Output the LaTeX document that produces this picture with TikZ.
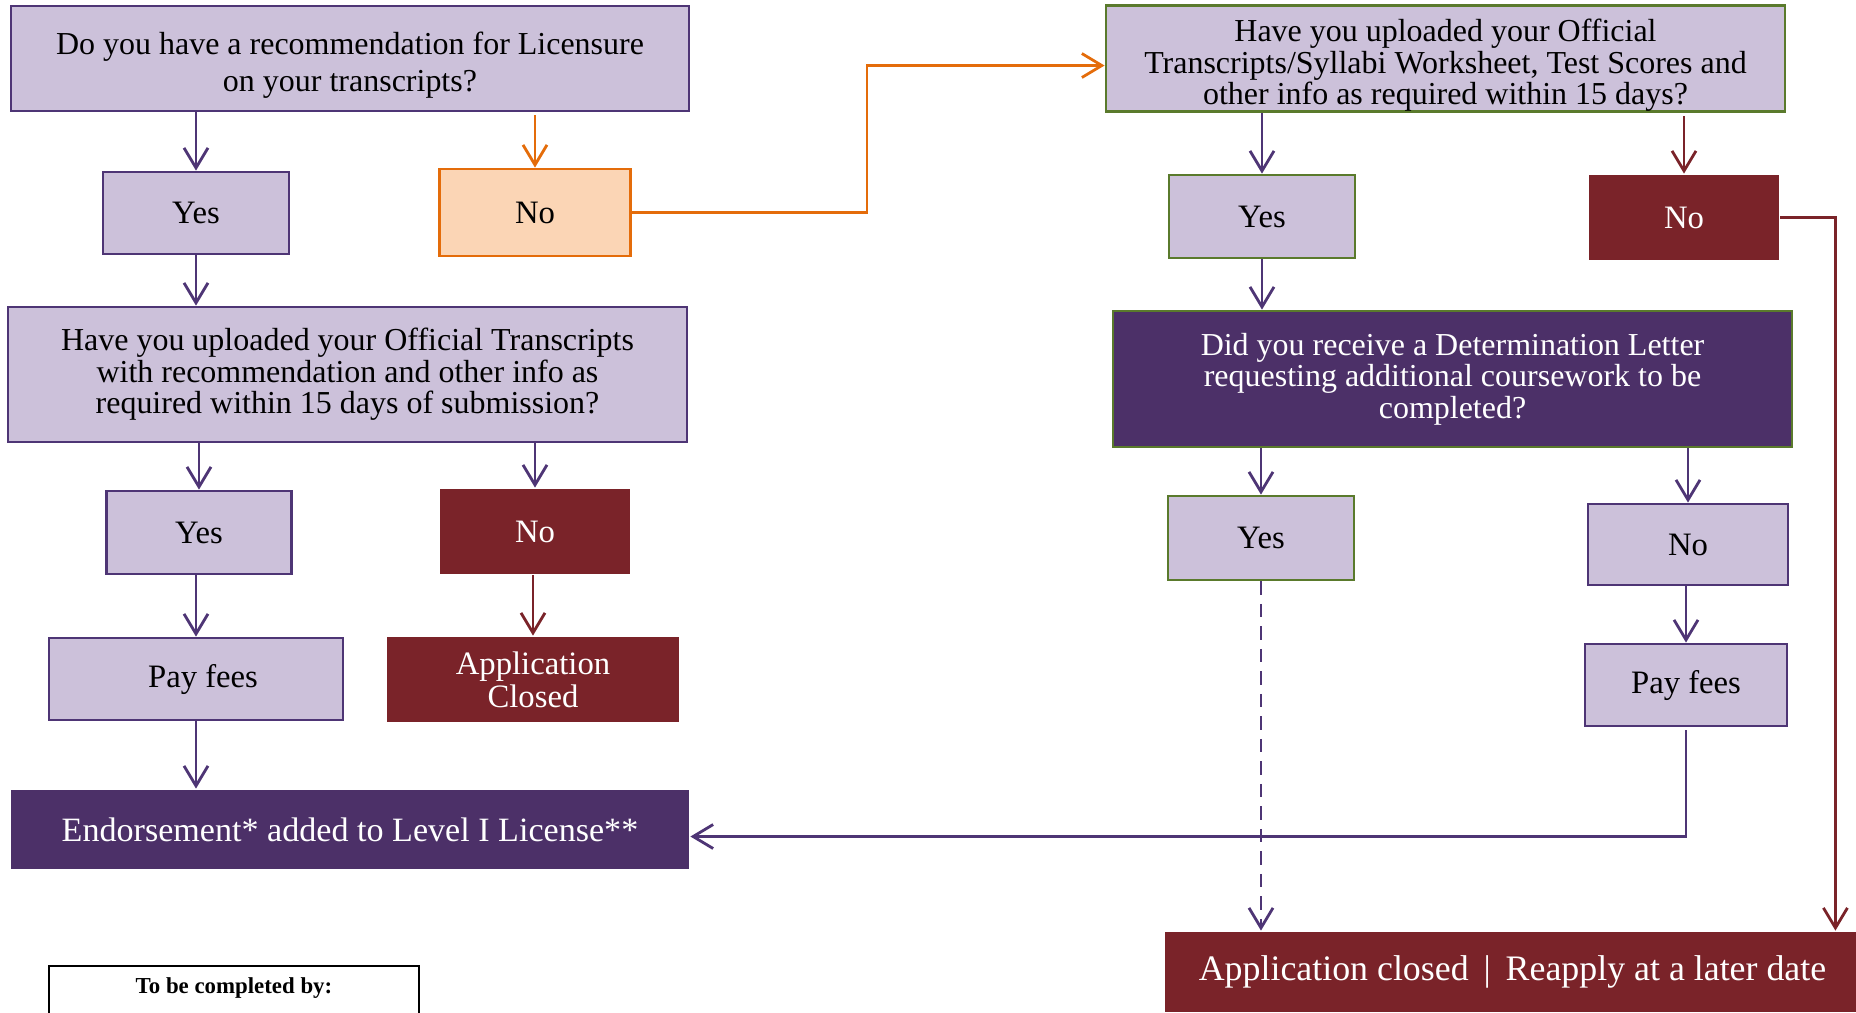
\documentclass[tikz,border=0pt]{standalone}
\usepackage{fontspec}
\setmainfont{Liberation Serif}
\usepackage{tikz}
\usetikzlibrary{arrows.meta}
\definecolor{lightpurple}{HTML}{CCC1DA}
\definecolor{boxpurple}{HTML}{4E3575}
\definecolor{darkpurple}{HTML}{4C3068}
\definecolor{darkred}{HTML}{7A2329}
\definecolor{boxgreen}{HTML}{5A7A2C}
\definecolor{lineorange}{HTML}{E46C0A}
\definecolor{peach}{HTML}{FBD5B5}
\tikzset{
  basebox/.style={rectangle,inner sep=0pt,align=center,line width=0.8pt,
    font=\fontsize{9.3}{10.5}\selectfont},
  qtext/.style={font=\fontsize{9.1}{9}\selectfont},
  lightbox/.style={basebox,draw=boxpurple,fill=lightpurple,text=black},
  greenbox/.style={basebox,draw=boxgreen,fill=lightpurple,text=black},
  orangebox/.style={basebox,draw=lineorange,fill=peach,text=black},
  redbox/.style={basebox,fill=darkred,text=white},
  purplebox/.style={basebox,fill=darkpurple,text=white},
  flow/.style={draw=boxpurple,line width=0.8pt,-{Straight Barb[length=2mm,width=2.4mm]}},
  redflow/.style={flow,draw=darkred},
  orangeflow/.style={flow,draw=lineorange}
}

\begin{document}
\begin{tikzpicture}
    \useasboundingbox (0,0) rectangle (18.56,-10.12);
    % left column
    \node[lightbox,font=\fontsize{9.1}{10.5}\selectfont,minimum width=6.78cm,minimum height=1.05cm]
        (q1) at (3.50,-0.585) {\rule{0pt}{3.5mm}Do you have a recommendation for Licensure\\on your transcripts?};
    \node[lightbox,minimum width=1.86cm,minimum height=0.82cm] (yes1) at (1.96,-2.13) {Yes};
    \node[orangebox,minimum width=1.91cm,minimum height=0.87cm] (no1) at (5.35,-2.125) {No};
    \node[lightbox,qtext,minimum width=6.79cm,minimum height=1.35cm]
        (q2) at (3.475,-3.745) {Have you uploaded your Official Transcripts\\with recommendation and other info as\\required within 15 days of submission?};
    \node[lightbox,minimum width=1.85cm,minimum height=0.83cm] (yes2) at (1.99,-5.325) {Yes};
    \node[redbox,minimum width=1.90cm,minimum height=0.85cm] (no2) at (5.35,-5.315) {No};
    \node[lightbox,minimum width=2.94cm,minimum height=0.82cm] (pay1) at (1.96,-6.79) {\hspace*{1.4mm}Pay fees};
    \node[redbox,font=\fontsize{9.3}{8.4}\selectfont,minimum width=2.92cm,minimum height=0.85cm]
        (closed1) at (5.33,-6.795) {Application\\Closed};
    \node[purplebox,font=\fontsize{9.7}{11}\selectfont,minimum width=6.78cm,minimum height=0.79cm]
        (endorse) at (3.50,-8.295) {Endorsement* added to Level I License**};
    % right column
    \node[greenbox,qtext,minimum width=6.79cm,minimum height=1.05cm]
        (q3) at (14.455,-0.585) {\rule{0pt}{3.65mm}Have you uploaded your Official\\Transcripts/Syllabi Worksheet, Test Scores and\\other info as required within 15 days?};
    \node[greenbox,minimum width=1.86cm,minimum height=0.83cm] (yes3) at (12.62,-2.165) {Yes};
    \node[redbox,minimum width=1.90cm,minimum height=0.85cm] (no3) at (16.84,-2.175) {No};
    \node[purplebox,qtext,draw=boxgreen,minimum width=6.79cm,minimum height=1.36cm]
        (q4) at (14.525,-3.79) {Did you receive a Determination Letter\\requesting additional coursework to be\\completed?};
    \node[greenbox,minimum width=1.86cm,minimum height=0.84cm] (yes4) at (12.61,-5.38) {Yes};
    \node[lightbox,minimum width=2.00cm,minimum height=0.81cm] (no4) at (16.88,-5.445) {No};
    \node[lightbox,minimum width=2.02cm,minimum height=0.82cm] (pay2) at (16.86,-6.85) {Pay fees};
    \node[redbox,font=\fontsize{10.2}{12}\selectfont,minimum width=6.95cm,minimum height=0.80cm]
        (reapply) at (15.125,-9.72) {Application closed \,|\, Reapply at a later date};
    % footer box
    \draw[line width=0.6pt] (0.49,-10.4) |- (4.19,-9.66) -- (4.19,-10.4);
    \node[font=\bfseries\fontsize{6.5}{8}\selectfont] (tobe) at (2.34,-9.88) {To be completed by:};
    % connectors
    \draw[flow] (q1.south -| yes1) -- (yes1.north);
    \draw[orangeflow] ([yshift=-0.3mm]q1.south -| no1) -- (no1.north);
    \draw[orangeflow] (no1.east) -- ++(2.35,0) |- ([yshift=-0.7mm]q3.west);
    \draw[flow] (yes1.south) -- (q2.north -| yes1);
    \draw[flow] (q2.south -| yes2) -- (yes2.north);
    \draw[flow] (q2.south -| no2) -- (no2.north);
    \draw[flow] (yes2.south -| pay1) -- (pay1.north);
    \draw[redflow] (no2.south -| closed1) -- (closed1.north);
    \draw[flow] (pay1.south) -- (endorse.north -| pay1);
    \draw[flow] (q3.south -| yes3) -- (yes3.north);
    \draw[redflow] ([yshift=-0.3mm]q3.south -| no3) -- (no3.north);
    \draw[redflow] (no3.east) -| ([xshift=-2.6mm]reapply.north east);
    \draw[flow] (yes3.south) -- (q4.north -| yes3);
    \draw[flow] (q4.south -| yes4) -- (yes4.north);
    \draw[flow] (q4.south -| no4) -- (no4.north);
    \draw[flow,dashed,dash pattern=on 1.35mm off 0.9mm] (yes4.south) -- (reapply.north -| yes4);
    \draw[flow] (no4.south -| pay2) -- (pay2.north);
    \draw[flow] ([yshift=-0.3mm]pay2.south) |- ([yshift=-0.7mm]endorse.east);
\end{tikzpicture}
\end{document}
